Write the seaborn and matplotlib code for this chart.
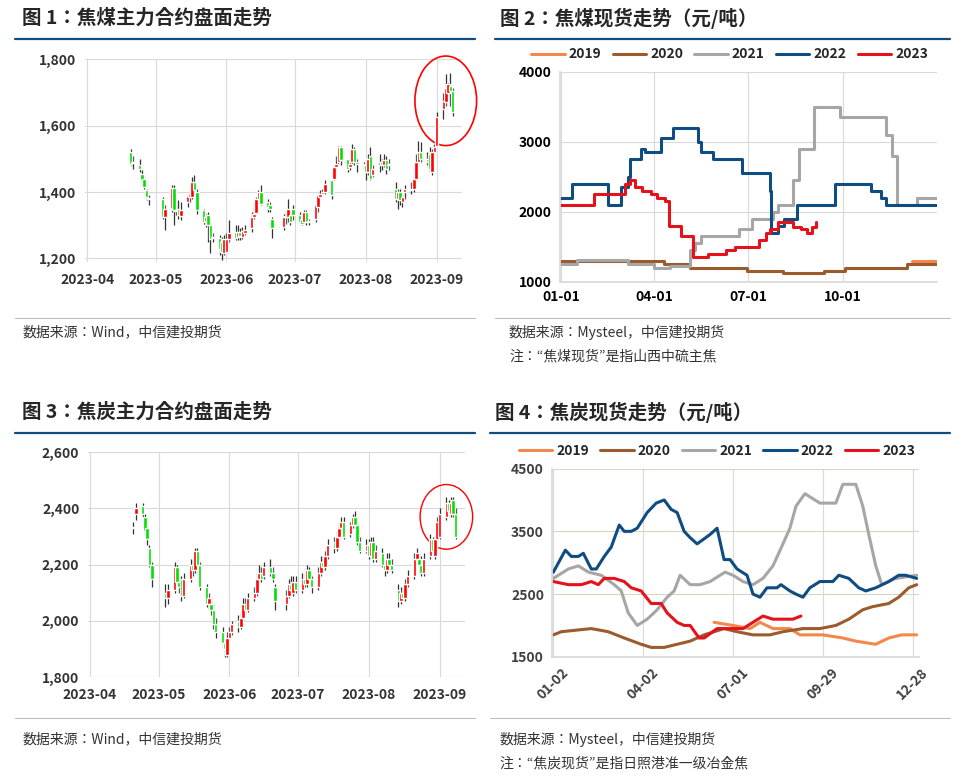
import numpy as np
import pandas as pd
import matplotlib
matplotlib.use('Agg')
import matplotlib.pyplot as plt
import matplotlib.dates as mdates
from matplotlib.patches import Ellipse
import seaborn as sns

sns.set_theme(style='white')
plt.rcParams['font.family'] = ['Noto Sans CJK JP', 'Noto Sans CJK SC', 'DejaVu Sans']
plt.rcParams['axes.unicode_minus'] = False

NAVY = '#0F4C81'
UP = '#FF0000'
DOWN = '#00E000'
GRID = '#D9D9D9'
TICK = '#404040'

# ---- trading days (Apr 20 - Sep 8, 2023) ----
holidays = ['2023-05-01', '2023-05-02', '2023-05-03', '2023-06-22', '2023-06-23']
days = [d for d in pd.bdate_range('2023-04-20', '2023-09-08') if str(d.date()) not in holidays]

# ---- coking coal futures (JM) ----
jm_open = [1520, 1487, 1480, 1455, 1440, 1405, 1380,
           1380, 1325, 1352, 1412, 1345, 1350, 1328, 1370, 1385, 1385, 1430, 1400,
           1345, 1312, 1330, 1300, 1262, 1262, 1250, 1215,
           1220, 1258, 1278, 1265, 1278, 1265, 1275, 1290, 1325, 1338, 1380, 1400,
           1370, 1360, 1320, 1295, 1325, 1325, 1330, 1350,
           1330, 1320, 1310, 1340, 1310, 1320, 1355, 1385, 1395, 1400, 1435, 1440,
           1475, 1490, 1535, 1500, 1475, 1490, 1530, 1490, 1485,
           1480, 1460, 1510, 1450, 1480, 1490, 1480, 1495, 1480, 1410, 1380, 1400,
           1370, 1400, 1410, 1410, 1440, 1490, 1520, 1500, 1515, 1460, 1520,
           1540, 1650, 1670, 1700, 1720, 1705]
jm_close = [1485, 1486, 1470, 1435, 1415, 1385, 1378,
            1325, 1350, 1412, 1345, 1343, 1330, 1345, 1388, 1395, 1430, 1405, 1345,
            1310, 1325, 1300, 1258, 1260, 1228, 1220, 1258,
            1258, 1275, 1262, 1278, 1268, 1282, 1285, 1325, 1335, 1380, 1400, 1365,
            1355, 1350, 1292, 1325, 1325, 1350, 1310, 1330,
            1310, 1305, 1340, 1310, 1312, 1360, 1390, 1395, 1395, 1425, 1390, 1475,
            1485, 1535, 1495, 1470, 1485, 1530, 1490, 1485, 1480,
            1460, 1500, 1440, 1470, 1490, 1480, 1495, 1468, 1485, 1380, 1400, 1375,
            1385, 1410, 1405, 1440, 1490, 1520, 1500, 1490, 1470, 1520, 1535,
            1625, 1675, 1715, 1725, 1705, 1640]
jm_high = [1530, 1510, 1500, 1465, 1450, 1410, 1390,
           1385, 1360, 1420, 1420, 1360, 1375, 1370, 1395, 1400, 1445, 1450, 1410,
           1350, 1335, 1340, 1310, 1275, 1270, 1265, 1270,
           1275, 1315, 1300, 1300, 1290, 1295, 1300, 1340, 1355, 1385, 1405, 1420,
           1380, 1370, 1325, 1335, 1340, 1380, 1340, 1360,
           1340, 1325, 1345, 1345, 1320, 1365, 1395, 1405, 1410, 1435, 1440, 1480,
           1510, 1540, 1540, 1500, 1500, 1545, 1535, 1500, 1490,
           1485, 1515, 1535, 1480, 1515, 1500, 1515, 1510, 1500, 1430, 1410, 1410,
           1395, 1420, 1430, 1455, 1515, 1555, 1550, 1520, 1535, 1530, 1545,
           1640, 1700, 1755, 1730, 1760, 1715]
jm_low = [1480, 1470, 1460, 1430, 1410, 1375, 1360,
          1320, 1285, 1340, 1300, 1330, 1320, 1315, 1355, 1370, 1380, 1395, 1335,
          1305, 1295, 1250, 1215, 1250, 1210, 1195, 1210,
          1220, 1250, 1255, 1255, 1255, 1258, 1270, 1280, 1320, 1330, 1375, 1360,
          1340, 1340, 1260, 1285, 1305, 1310, 1300, 1315,
          1305, 1300, 1305, 1300, 1300, 1310, 1340, 1385, 1390, 1395, 1380, 1435,
          1470, 1480, 1480, 1460, 1465, 1480, 1480, 1460, 1470,
          1435, 1450, 1435, 1445, 1460, 1465, 1475, 1455, 1465, 1370, 1350, 1360,
          1355, 1380, 1395, 1400, 1430, 1480, 1490, 1480, 1460, 1450, 1510,
          1540, 1620, 1660, 1690, 1660, 1630]

# ---- coke futures (J) ----
j_open = [2330, 2380, 2410, 2370, 2330, 2260, 2200,
          2100, 2080, 2110, 2190, 2140, 2150, 2090, 2150, 2200, 2180, 2250, 2200,
          2120, 2060, 2060, 2040, 1990, 1960, 1920, 1880,
          1940, 1960, 2000, 1980, 2010, 2060, 2040, 2080, 2100, 2150, 2170, 2160,
          2190, 2170, 2120, 2060, 2090, 2130, 2100, 2140,
          2110, 2150, 2130, 2180, 2150, 2120, 2170, 2210, 2190, 2230, 2280, 2260,
          2300, 2330, 2350, 2310, 2340, 2370, 2340, 2280, 2250,
          2270, 2230, 2280, 2220, 2240, 2200, 2180, 2220, 2200, 2110, 2070, 2100,
          2080, 2130, 2160, 2220, 2220, 2200, 2170, 2230, 2290, 2230, 2290,
          2300, 2370, 2420, 2380, 2430, 2380]
j_close = [2330, 2400, 2380, 2320, 2290, 2200, 2150,
           2080, 2110, 2190, 2140, 2120, 2090, 2150, 2200, 2180, 2250, 2200, 2120,
           2060, 2080, 2040, 1990, 1960, 1920, 1900, 1940,
           1960, 1990, 1980, 2010, 2060, 2040, 2080, 2100, 2150, 2170, 2150, 2190,
           2170, 2150, 2070, 2090, 2130, 2110, 2140, 2110,
           2150, 2130, 2180, 2150, 2120, 2170, 2210, 2190, 2230, 2270, 2260, 2300,
           2330, 2350, 2300, 2340, 2370, 2340, 2280, 2250, 2270,
           2230, 2280, 2220, 2250, 2200, 2180, 2220, 2200, 2180, 2070, 2100, 2080,
           2130, 2160, 2220, 2240, 2200, 2170, 2220, 2290, 2250, 2290, 2350,
           2380, 2420, 2390, 2420, 2380, 2300]
j_high = [2350, 2420, 2420, 2380, 2340, 2270, 2210,
          2130, 2130, 2210, 2200, 2160, 2160, 2170, 2220, 2220, 2260, 2260, 2210,
          2130, 2100, 2080, 2060, 2010, 1980, 1940, 1960,
          1980, 2000, 2020, 2030, 2080, 2080, 2100, 2120, 2170, 2200, 2190, 2210,
          2220, 2190, 2130, 2110, 2150, 2160, 2160, 2160,
          2170, 2170, 2200, 2190, 2160, 2190, 2230, 2230, 2250, 2290, 2300, 2320,
          2350, 2370, 2370, 2350, 2380, 2390, 2350, 2300, 2290,
          2290, 2300, 2300, 2270, 2260, 2220, 2240, 2240, 2220, 2130, 2120, 2120,
          2150, 2180, 2240, 2260, 2240, 2230, 2240, 2310, 2300, 2310, 2370,
          2400, 2440, 2430, 2440, 2440, 2400]
j_low = [2310, 2360, 2370, 2310, 2270, 2190, 2120,
         2050, 2060, 2100, 2120, 2100, 2070, 2080, 2140, 2160, 2170, 2180, 2110,
         2050, 2040, 2020, 1970, 1940, 1900, 1870, 1870,
         1930, 1950, 1960, 1970, 2000, 2030, 2030, 2070, 2090, 2140, 2140, 2150,
         2160, 2140, 2040, 2040, 2080, 2100, 2090, 2100,
         2100, 2120, 2120, 2140, 2100, 2110, 2160, 2180, 2180, 2220, 2240, 2250,
         2290, 2320, 2290, 2300, 2330, 2330, 2270, 2240, 2240,
         2220, 2220, 2210, 2210, 2190, 2160, 2170, 2180, 2170, 2050, 2060, 2070,
         2070, 2120, 2150, 2210, 2190, 2160, 2160, 2220, 2240, 2220, 2280,
         2290, 2360, 2380, 2370, 2370, 2290]

# ---- coking coal spot (day of year, value), step series ----
cc_2019_day = [340, 363]
cc_2019_val = [1300, 1300]
cc_2020_day = [0, 100, 125, 180, 215, 255, 275, 335, 363]
cc_2020_val = [1300, 1250, 1200, 1150, 1130, 1150, 1200, 1250, 1250]
cc_2021_day = [0, 15, 65, 90, 105, 125, 130, 135, 172, 185, 205, 210, 225, 230, 235, 245, 270, 315, 320, 325, 330, 345, 363]
cc_2021_val = [1250, 1320, 1250, 1200, 1230, 1450, 1550, 1650, 1750, 1900, 2000, 2100, 2450, 2900, 2900, 3500, 3350, 3100, 2800, 2100, 2100, 2200, 2200]
cc_2022_day = [0, 11, 45, 58, 65, 67, 77, 81, 97, 108, 133, 135, 147, 175, 202, 203, 205, 210, 216, 228, 265, 300, 310, 315, 363]
cc_2022_val = [2200, 2400, 2100, 2350, 2500, 2750, 2900, 2850, 3050, 3200, 3000, 2850, 2750, 2550, 2300, 1700, 1700, 1800, 1900, 2100, 2400, 2300, 2200, 2100, 2100]
cc_2023_day = [0, 32, 62, 67, 72, 78, 87, 93, 101, 104, 113, 116, 124, 128, 142, 160, 168, 192, 198, 202, 210, 215, 225, 232, 238, 243, 247]
cc_2023_val = [2100, 2250, 2400, 2450, 2350, 2300, 2250, 2200, 2150, 1800, 1800, 1650, 1650, 1350, 1400, 1450, 1500, 1600, 1700, 1750, 1850, 1850, 1780, 1750, 1700, 1780, 1850]

# ---- coke spot (day since 01-02, value) ----
ck_2019_day = [161, 180, 197, 207, 220, 237, 247, 270, 290, 303, 323, 336, 349, 364]
ck_2019_val = [2050, 2000, 1950, 2050, 1950, 1950, 1850, 1850, 1800, 1750, 1700, 1800, 1850, 1850]
ck_2020_day = [0, 8, 38, 55, 71, 88, 98, 111, 124, 137, 151, 171, 184, 200, 217, 230, 250, 267, 283, 296, 310, 320, 336, 346, 356, 364]
ck_2020_val = [1850, 1900, 1950, 1900, 1800, 1700, 1650, 1650, 1700, 1750, 1850, 1950, 1900, 1850, 1850, 1900, 1950, 1950, 2000, 2100, 2250, 2300, 2350, 2450, 2600, 2650]
ck_2021_day = [0, 15, 25, 35, 48, 61, 68, 75, 84, 94, 104, 114, 121, 127, 137, 147, 157, 172, 180, 190, 200, 210, 220, 230, 237, 243, 252, 267, 283, 290, 303, 310, 316, 323, 329, 343, 364]
ck_2021_val = [2750, 2900, 2950, 2850, 2800, 2650, 2550, 2200, 2000, 2100, 2250, 2450, 2550, 2800, 2650, 2650, 2700, 2850, 2800, 2700, 2650, 2750, 2950, 3300, 3550, 3900, 4100, 3950, 3950, 4250, 4250, 3900, 3450, 2950, 2650, 2750, 2800]
ck_2022_day = [0, 12, 18, 25, 30, 38, 43, 51, 58, 66, 71, 78, 84, 94, 103, 111, 118, 124, 131, 137, 144, 157, 164, 171, 177, 184, 194, 200, 207, 214, 224, 228, 237, 243, 250, 257, 267, 280, 286, 296, 306, 313, 323, 336, 346, 353, 364]
ck_2022_val = [2850, 3200, 3100, 3100, 3150, 2900, 2900, 3100, 3250, 3600, 3500, 3500, 3550, 3800, 3950, 4000, 3850, 3800, 3500, 3400, 3300, 3450, 3550, 3050, 3050, 2900, 2800, 2500, 2450, 2600, 2600, 2650, 2550, 2500, 2450, 2600, 2700, 2700, 2800, 2750, 2600, 2550, 2600, 2700, 2800, 2800, 2750]
ck_2023_day = [0, 15, 28, 38, 45, 51, 61, 71, 78, 88, 98, 108, 114, 124, 131, 137, 146, 151, 164, 177, 190, 200, 210, 220, 230, 240, 248]
ck_2023_val = [2700, 2650, 2650, 2700, 2650, 2750, 2750, 2700, 2600, 2550, 2350, 2350, 2200, 2050, 2000, 2000, 1800, 1800, 1950, 1950, 1950, 2050, 2150, 2100, 2100, 2100, 2150]

YEARS = ['2019', '2020', '2021', '2022', '2023']
YEAR_COLORS = ['#F4874B', '#9C5B2D', '#A6A6A6', '#0F4C81', '#E3121B']


def bold_ticks(ax, color='#333333'):
    for t in ax.get_xticklabels() + ax.get_yticklabels():
        t.set_fontweight('bold')
        t.set_color(color)


def candles(ax, o, h, l, c):
    x = mdates.date2num(days)
    o, h, l, c = map(np.asarray, (o, h, l, c))
    up = c >= o
    ax.vlines(x, l, h, color='#333333', linewidth=0.9, zorder=2)
    ax.bar(x, np.maximum(np.abs(c - o), 4), bottom=np.minimum(o, c), width=1.6,
           color=np.where(up, UP, DOWN), zorder=3)
    ax.set_xlim(mdates.datestr2num('2023-03-31'), mdates.datestr2num('2023-09-12'))
    ax.xaxis.set_major_locator(mdates.MonthLocator())
    ax.xaxis.set_major_formatter(mdates.DateFormatter('%Y-%m'))
    ax.grid(True, color=GRID, linewidth=0.8)
    ax.set_axisbelow(True)
    ax.yaxis.set_major_formatter(matplotlib.ticker.StrMethodFormatter('{x:,.0f}'))
    for s in ['top', 'right', 'left', 'bottom']:
        ax.spines[s].set_visible(False)
    ax.tick_params(labelsize=10, length=0)
    ax.tick_params(axis='x', pad=8)
    ax.tick_params(axis='y', pad=6)


def year_lines(ax, series, step):
    frames = []
    for yr, (d, v) in zip(YEARS, series):
        frames.append(pd.DataFrame({'day': d, 'val': v, 'year': yr}))
    df = pd.concat(frames)
    for yr, col in zip(YEARS, YEAR_COLORS):
        sub = df[df.year == yr]
        sns.lineplot(data=sub, x='day', y='val', ax=ax, color=col, linewidth=2.2,
                     label=yr, drawstyle='steps-post' if step else 'default')
    ax.grid(True, color=GRID, linewidth=0.8)
    for s in ['top', 'right']:
        ax.spines[s].set_visible(False)
    ax.spines['left'].set_color(GRID)
    ax.spines['bottom'].set_color(GRID)
    ax.set_xlabel('')
    ax.set_ylabel('')
    ax.tick_params(labelsize=10, length=0)
    ax.tick_params(axis='x', pad=6)
    ax.tick_params(axis='y', pad=6)
    ax.legend(loc='lower center', bbox_to_anchor=(0.45, 0.99), ncol=5, frameon=False,
              handlelength=2.4, columnspacing=0.8, handletextpad=0.3,
              prop={'weight': 'bold', 'size': 10})


fig = plt.figure(figsize=(9.64, 7.81), dpi=100)

# panel 1
ax1 = fig.add_axes([0.088, 0.665, 0.391, 0.259])
candles(ax1, jm_open, jm_high, jm_low, jm_close)
ax1.set_ylim(1190, 1800)
ax1.set_yticks([1200, 1400, 1600, 1800])
ax1.add_patch(Ellipse((mdates.datestr2num('2023-09-05'), 1675), 27, 270,
                      fill=False, edgecolor='red', linewidth=1.2, clip_on=False))
bold_ticks(ax1)

# panel 2
ax2 = fig.add_axes([0.581, 0.639, 0.391, 0.269])
year_lines(ax2, [(cc_2019_day, cc_2019_val), (cc_2020_day, cc_2020_val),
                 (cc_2021_day, cc_2021_val), (cc_2022_day, cc_2022_val),
                 (cc_2023_day, cc_2023_val)], step=True)
ax2.set_ylim(1000, 4000)
ax2.set_yticks([1000, 2000, 3000, 4000])
ax2.set_xlim(-1, 364)
ax2.set_xticks([0, 90, 181, 273])
ax2.set_xticklabels(['01-01', '04-01', '07-01', '10-01'])
bold_ticks(ax2, 'black')

# panel 3
ax3 = fig.add_axes([0.091, 0.133, 0.391, 0.288])
candles(ax3, j_open, j_high, j_low, j_close)
ax3.set_ylim(1800, 2600)
ax3.set_yticks([1800, 2000, 2200, 2400, 2600])
ax3.add_patch(Ellipse((mdates.datestr2num('2023-09-04'), 2370), 23, 230,
                      fill=False, edgecolor='red', linewidth=1.0, clip_on=False))
bold_ticks(ax3)

# panel 4
ax4 = fig.add_axes([0.573, 0.159, 0.38, 0.241])
year_lines(ax4, [(ck_2019_day, ck_2019_val), (ck_2020_day, ck_2020_val),
                 (ck_2021_day, ck_2021_val), (ck_2022_day, ck_2022_val),
                 (ck_2023_day, ck_2023_val)], step=False)
ax4.set_ylim(1500, 4500)
ax4.set_yticks([1500, 2500, 3500, 4500])
ax4.set_xlim(-1, 366)
ax4.set_xticks([0, 90, 180, 270, 360])
ax4.set_xticklabels(['01-02', '04-02', '07-01', '09-29', '12-28'], rotation=45)
ax4.grid(axis='y', color='#D8D5C0')
bold_ticks(ax4, '#404040')

# titles, rules, sources
def title(x, y, s, x0, x1):
    fig.text(x, y, s, fontsize=14, fontweight='bold', va='center')
    fig.add_artist(plt.Line2D([x0, x1], [y - 0.027, y - 0.027], color=NAVY, linewidth=1.6))

title(0.023, 0.977, '图 1：焦煤主力合约盘面走势', 0.016, 0.493)
title(0.519, 0.977, '图 2：焦煤现货走势（元/吨）', 0.513, 0.985)
title(0.023, 0.472, '图 3：焦炭主力合约盘面走势', 0.016, 0.493)
title(0.514, 0.472, '图 4：焦炭现货走势（元/吨）', 0.508, 0.985)

for x0, x1, y in [(0.016, 0.493, 0.593), (0.513, 0.985, 0.593),
                  (0.016, 0.493, 0.081), (0.508, 0.985, 0.081)]:
    fig.add_artist(plt.Line2D([x0, x1], [y, y], color='#BFBFBF', linewidth=0.8))

src = dict(fontsize=10, style='italic', color='#333333', va='center')
fig.text(0.023, 0.574, '数据来源：Wind，中信建投期货', **src)
fig.text(0.528, 0.574, '数据来源：Mysteel，中信建投期货', **src)
fig.text(0.528, 0.543, '注：“焦煤现货”是指山西中硫主焦', **src)
fig.text(0.023, 0.053, '数据来源：Wind，中信建投期货', **src)
fig.text(0.518, 0.053, '数据来源：Mysteel，中信建投期货', **src)
fig.text(0.518, 0.022, '注：“焦炭现货”是指日照港准一级冶金焦', **src)

fig.savefig('out.png', dpi=100, facecolor='white')
